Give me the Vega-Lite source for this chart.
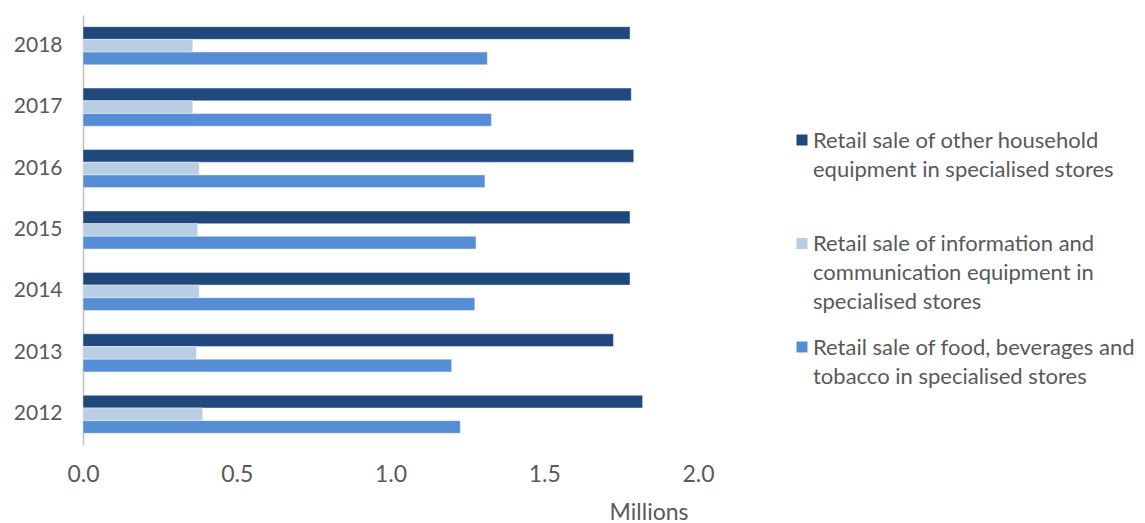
{
  "$schema": "https://vega.github.io/schema/vega-lite/v6.json",
  "width": 615,
  "height": 430,
  "autosize": "none",
  "padding": {"left": 83, "top": 15, "right": 447, "bottom": 78},
  "background": "white",
  "config": {
    "view": {"stroke": null},
    "font": "Lato",
    "style": {"guide-label": {"lineHeight": 29, "dy": -9.5}}
  },
  "data": {
    "values": [
      {"year": "2018", "series": "Retail sale of other household equipment in specialised stores", "value": 1.779},
      {"year": "2018", "series": "Retail sale of information and communication equipment in specialised stores", "value": 0.357},
      {"year": "2018", "series": "Retail sale of food, beverages and tobacco in specialised stores", "value": 1.315},
      {"year": "2017", "series": "Retail sale of other household equipment in specialised stores", "value": 1.783},
      {"year": "2017", "series": "Retail sale of information and communication equipment in specialised stores", "value": 0.357},
      {"year": "2017", "series": "Retail sale of food, beverages and tobacco in specialised stores", "value": 1.328},
      {"year": "2016", "series": "Retail sale of other household equipment in specialised stores", "value": 1.791},
      {"year": "2016", "series": "Retail sale of information and communication equipment in specialised stores", "value": 0.378},
      {"year": "2016", "series": "Retail sale of food, beverages and tobacco in specialised stores", "value": 1.307},
      {"year": "2015", "series": "Retail sale of other household equipment in specialised stores", "value": 1.779},
      {"year": "2015", "series": "Retail sale of information and communication equipment in specialised stores", "value": 0.373},
      {"year": "2015", "series": "Retail sale of food, beverages and tobacco in specialised stores", "value": 1.278},
      {"year": "2014", "series": "Retail sale of other household equipment in specialised stores", "value": 1.779},
      {"year": "2014", "series": "Retail sale of information and communication equipment in specialised stores", "value": 0.378},
      {"year": "2014", "series": "Retail sale of food, beverages and tobacco in specialised stores", "value": 1.274},
      {"year": "2013", "series": "Retail sale of other household equipment in specialised stores", "value": 1.725},
      {"year": "2013", "series": "Retail sale of information and communication equipment in specialised stores", "value": 0.369},
      {"year": "2013", "series": "Retail sale of food, beverages and tobacco in specialised stores", "value": 1.199},
      {"year": "2012", "series": "Retail sale of other household equipment in specialised stores", "value": 1.820},
      {"year": "2012", "series": "Retail sale of information and communication equipment in specialised stores", "value": 0.389},
      {"year": "2012", "series": "Retail sale of food, beverages and tobacco in specialised stores", "value": 1.227}
    ]
  },
  "mark": {"type": "bar", "stroke": "#ffffff", "strokeWidth": 0.6, "strokeOpacity": 0.7},
  "encoding": {
    "y": {
      "field": "year",
      "type": "ordinal",
      "sort": "descending",
      "scale": {"paddingInner": 0.38, "paddingOuter": 0.19},
      "axis": {
        "title": null,
        "domainColor": "#bfbfbf",
        "domainWidth": 1.5,
        "ticks": false,
        "labelFontSize": 21,
        "labelColor": "#595959",
        "labelPadding": 21,
        "labelOffset": 9.5
      }
    },
    "yOffset": {
      "field": "series",
      "type": "nominal",
      "sort": [
        "Retail sale of other household equipment in specialised stores",
        "Retail sale of information and communication equipment in specialised stores",
        "Retail sale of food, beverages and tobacco in specialised stores"
      ]
    },
    "x": {
      "field": "value",
      "type": "quantitative",
      "scale": {"domain": [0, 2], "nice": false},
      "axis": {
        "values": [0, 0.5, 1, 1.5, 2],
        "format": ".1f",
        "domain": false,
        "ticks": false,
        "grid": false,
        "labelFlush": false,
        "labelFontSize": 23,
        "labelColor": "#595959",
        "labelPadding": 27.5,
        "title": "Millions",
        "titleFontSize": 23,
        "titleFontWeight": "normal",
        "titleColor": "#595959",
        "titleX": 605,
        "titleAlign": "right",
        "titlePadding": 15
      }
    },
    "color": {
      "field": "series",
      "type": "nominal",
      "scale": {
        "domain": [
          "Retail sale of other household equipment in specialised stores",
          "Retail sale of information and communication equipment in specialised stores",
          "Retail sale of food, beverages and tobacco in specialised stores"
        ],
        "range": ["#1F497D", "#B9CDE5", "#558ED5"]
      },
      "legend": {
        "title": null,
        "orient": "none",
        "legendX": 708,
        "legendY": 114,
        "padding": 0,
        "symbolType": "square",
        "symbolSize": 121,
        "symbolStrokeWidth": 0,
        "labelFontSize": 22,
        "labelColor": "#595959",
        "labelLimit": 600,
        "labelOffset": 0,
        "labelBaseline": "top",
        "rowPadding": 22.5,
        "labelExpr": "datum.label == 'Retail sale of other household equipment in specialised stores' ? ['Retail sale of other household', 'equipment in specialised stores', ''] : datum.label == 'Retail sale of information and communication equipment in specialised stores' ? ['Retail sale of information and', 'communication equipment in', 'specialised stores'] : ['Retail sale of food, beverages and', 'tobacco in specialised stores', '']"
      }
    }
  }
}
